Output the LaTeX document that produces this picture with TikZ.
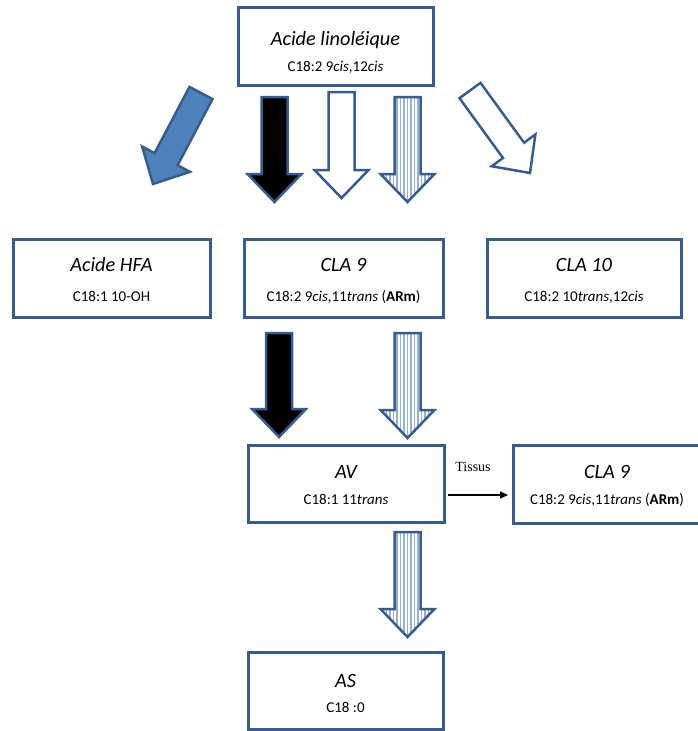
\documentclass[tikz,border=0pt]{standalone}
\usepackage{fontspec}
\setmainfont{Carlito}
\newfontfamily\tnr{Liberation Serif}
\usetikzlibrary{calc,arrows.meta}
\definecolor{edge}{RGB}{56,93,138}
\definecolor{bluefill}{RGB}{79,129,189}
\definecolor{stripe}{RGB}{150,175,210}
\tikzset{
  box/.style={draw=edge, line width=3pt, fill=white, inner sep=0pt},
  ttl/.style={anchor=base, font=\fontsize{20.3}{24}\selectfont\itshape, inner sep=0pt},
  sub/.style={anchor=base, font=\fontsize{15}{18}\selectfont, inner sep=0pt},
  barrow/.style={draw=edge, line width=2.5pt, line join=miter},
  stripeline/.style={draw=stripe, line width=1.4pt},
}
\newcommand\arrowpath[2]{($(#1)!13pt!90:(#2)$) -- ($(bh)!13pt!90:(#2)$) -- ($(bh)!27pt!90:(#2)$) -- (#2) -- ($(bh)!27pt!-90:(#2)$) -- ($(bh)!13pt!-90:(#2)$) -- ($(#1)!13pt!-90:(#2)$) -- cycle}
\newcommand\blockarrow[3]{%
  \coordinate (bh) at ($(#3)!28pt!(#2)$);
  \path[barrow,#1] \arrowpath{#2}{#3};
}
\newcommand\stripedarrow[2]{%
  \coordinate (bh) at ($(#2)!28pt!(#1)$);
  \path[fill=white] \arrowpath{#1}{#2};
  \begin{scope}
    \clip \arrowpath{#1}{#2};
    \foreach \i in {-28,-24.5,...,28} {
      \draw[stripeline] ($(#1)+(\i,-5)$) -- ($(#2)+(\i,5)$);
    }
  \end{scope}
  \path[barrow] \arrowpath{#1}{#2};
}
\begin{document}
\begin{tikzpicture}[x=1pt,y=-1pt]
\useasboundingbox (0,0) rectangle (698,731);
\fill[white] (0,0) rectangle (698,731);

% boxes
\node[box, minimum width=195pt, minimum height=78pt] (lin) at (335.5,46) {};
\node[ttl] (linT) at (335.5,45) {Acide linoléique};
\node[sub] (linS) at (335.5,71) {C18:2 9\textit{cis},12\textit{cis}};

\node[box, minimum width=197pt, minimum height=78pt] (hfa) at (111.5,278) {};
\node[ttl] (hfaT) at (111.5,271) {Acide HFA};
\node[sub] (hfaS) at (111.5,301) {C18:1 10-OH};

\node[box, minimum width=199pt, minimum height=78pt] (cla9) at (343.5,278) {};
\node[ttl] (cla9T) at (343.5,271) {CLA 9};
\node[sub] (cla9S) at (343.5,301) {C18:2 9\textit{cis},11\textit{trans} (\textbf{ARm})};

\node[box, minimum width=194pt, minimum height=78pt] (cla10) at (584,278) {};
\node[ttl] (cla10T) at (584,271) {CLA 10};
\node[sub] (cla10S) at (584,301) {C18:2 10\textit{trans},12\textit{cis}};

\node[box, minimum width=196pt, minimum height=77pt] (av) at (346,483.5) {};
\node[ttl] (avT) at (346,478) {AV};
\node[sub] (avS) at (346,504) {C18:1 11\textit{trans}};

\node[box, minimum width=206pt, minimum height=78pt] (cla9b) at (616,484) {};
\node[ttl] (cla9bT) at (607,478) {CLA 9};
\node[sub] (cla9bS) at (607,504) {C18:2 9\textit{cis},11\textit{trans} (\textbf{ARm})};

\node[box, minimum width=195pt, minimum height=77pt] (as) at (345.5,690.5) {};
\node[ttl] (asT) at (345.5,687) {AS};
\node[sub] (asS) at (345.5,712) {C18 :0};

% block arrow end points
\coordinate (a1t) at (274.5,97);  \coordinate (a1h) at (274.5,202);
\coordinate (a2t) at (341.5,92);  \coordinate (a2h) at (341.5,198);
\coordinate (a3t) at (407.5,97);  \coordinate (a3h) at (407.5,202);
\coordinate (a4t) at (201,93);    \coordinate (a4h) at (153,184);
\coordinate (a5t) at (470,90.5);  \coordinate (a5h) at (530,173);
\coordinate (a6t) at (279,333);   \coordinate (a6h) at (279,437);
\coordinate (a7t) at (407.5,333); \coordinate (a7h) at (407.5,438);
\coordinate (a8t) at (407.5,532); \coordinate (a8h) at (407.5,637);

\blockarrow{fill=bluefill}{a4t}{a4h}
\blockarrow{fill=black}{a1t}{a1h}
\blockarrow{fill=white}{a2t}{a2h}
\stripedarrow{a3t}{a3h}
\blockarrow{fill=white}{a5t}{a5h}
\blockarrow{fill=black}{a6t}{a6h}
\stripedarrow{a7t}{a7h}
\stripedarrow{a8t}{a8h}

% Tissus connector
\node[font=\tnr\fontsize{14}{17}\selectfont, inner sep=0pt] (tis) at (473,467) {Tissus};
\draw[line width=1.5pt, -{Triangle[length=8pt,width=7pt]}]
  ([xshift=2.5pt,yshift=-11.5pt]av.east) -- ([xshift=-3.5pt,yshift=-11pt]cla9b.west);
\end{tikzpicture}
\end{document}
